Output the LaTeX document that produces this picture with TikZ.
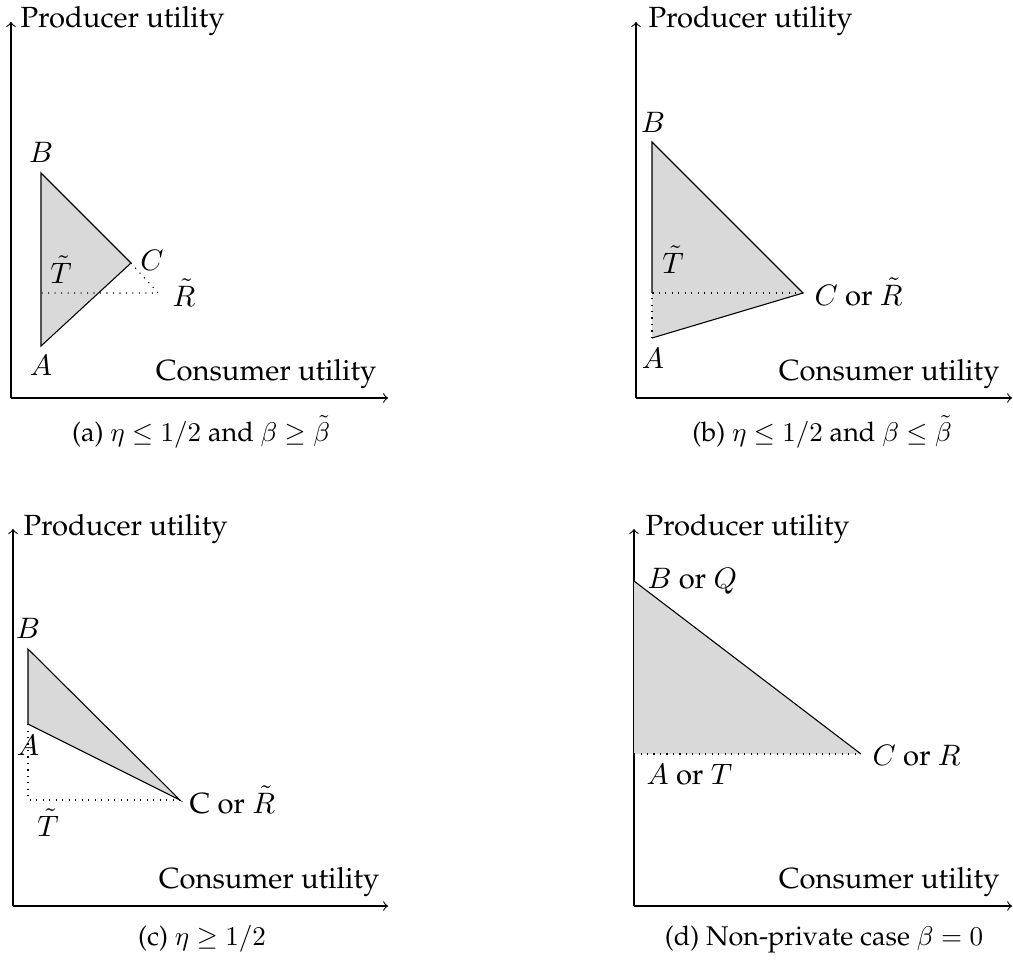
\documentclass[tikz,border=0pt]{standalone}
\usepackage[T1]{fontenc}
\usepackage{palatino}
\usepackage{tikz}
\usetikzlibrary{positioning}

\begin{document}
\begin{tikzpicture}[
  x=0.37pt, y=-0.37pt,
  axis/.style={->, >=to, line width=0.4pt},
  region/.style={fill=gray!30},
  guide/.style={dotted},
  lbl/.style={font=\fontsize{10.8}{13}\selectfont, inner sep=0pt, anchor=base},
  captext/.style={font=\fontsize{10}{12}\selectfont, inner sep=0pt, anchor=base}
]
  \useasboundingbox (0,0) rectangle (1013,961);

  % (a)
  \begin{scope}[name prefix=a-]
    \coordinate (O) at (11,398);
    \coordinate (Y) at (11,22);
    \coordinate (X) at (388,398);
    \coordinate (A) at (41,346);
    \coordinate (B) at (41,173);
    \coordinate (C) at (131,263);
    \coordinate (R) at (158,293);
    \coordinate (T) at (41,293);
    \draw[axis] (O) -- (Y);
    \draw[axis] (O) -- (X);
    \draw[region] (A) -- (B) -- (C) -- cycle;
    \draw[guide] (C) -- (R) -- (T);
    \node[lbl, anchor=base west] (py) at (20,27) {Producer utility};
    \node[lbl, anchor=base east] (px) at (377,380) {Consumer utility};
    \node[lbl] (lB) at (41,162) {$B$};
    \node[lbl] (lA) at (41,375) {$A$};
    \node[lbl] (lT) at (61,283) {$\tilde{T}$};
    \node[lbl] (lC) at (152,270) {$C$};
    \node[lbl] (lR) at (184,306) {$\tilde{R}$};
  \end{scope}

  % (b)
  \begin{scope}[name prefix=b-]
    \coordinate (O) at (636,398);
    \coordinate (Y) at (636,22);
    \coordinate (X) at (1012,398);
    \coordinate (A) at (652,338);
    \coordinate (B) at (652,142);
    \coordinate (C) at (803,293);
    \coordinate (T) at (652,293);
    \draw[axis] (O) -- (Y);
    \draw[axis] (O) -- (X);
    \fill[region] (A) -- (B) -- (C) -- cycle;
    \draw (T) -- (B) -- (C) -- (A);
    \draw[guide] (A) -- (T) -- (C);
    \node[lbl, anchor=base west] (py) at (648,27) {Producer utility};
    \node[lbl, anchor=base east] (px) at (1000,380) {Consumer utility};
    \node[lbl] (lB) at (653,132) {$B$};
    \node[lbl] (lA) at (653,368) {$A$};
    \node[lbl] (lT) at (673,273) {$\tilde{T}$};
    \node[lbl, anchor=base west] (lC) at (814,305) {$C$ or $\tilde{R}$};
  \end{scope}

  % (c)
  \begin{scope}[name prefix=c-]
    \coordinate (O) at (13,906);
    \coordinate (Y) at (13,529);
    \coordinate (X) at (388,906);
    \coordinate (A) at (28,724);
    \coordinate (B) at (28,649);
    \coordinate (C) at (180,800);
    \coordinate (T) at (28,800);
    \draw[axis] (O) -- (Y);
    \draw[axis] (O) -- (X);
    \draw[region] (A) -- (B) -- (C) -- cycle;
    \draw[guide] (A) -- (T) -- (C);
    \node[lbl, anchor=base west] (py) at (23,535) {Producer utility};
    \node[lbl, anchor=base east] (px) at (380,888) {Consumer utility};
    \node[lbl] (lB) at (28,638) {$B$};
    \node[lbl] (lA) at (28,755) {$A$};
    \node[lbl] (lT) at (48,836) {$\tilde{T}$};
    \node[lbl, anchor=base west] (lC) at (189,813) {C or $\tilde{R}$};
  \end{scope}

  % (d)
  \begin{scope}[name prefix=d-]
    \coordinate (O) at (634,906);
    \coordinate (Y) at (634,529);
    \coordinate (X) at (1012,906);
    \coordinate (A) at (634,754);
    \coordinate (B) at (634,581);
    \coordinate (C) at (861,754);
    \draw[axis] (O) -- (Y);
    \draw[axis] (O) -- (X);
    \fill[region] (A) -- (B) -- (C) -- cycle;
    \draw (B) -- (C);
    \draw[guide] (A) -- (C);
    \node[lbl, anchor=base west] (py) at (645,535) {Producer utility};
    \node[lbl, anchor=base east] (px) at (1000,888) {Consumer utility};
    \node[lbl, anchor=base west] (lB) at (647,588) {$B$ or $Q$};
    \node[lbl, anchor=base west] (lA) at (646,784) {$A$ or $T$};
    \node[lbl, anchor=base west] (lC) at (872,765) {$C$ or $R$};
  \end{scope}

  \node[captext] (capa) at (201,441) {(a) $\eta \le 1/2$ and $\beta \ge \tilde{\beta}$};
  \node[captext] (capb) at (822,441) {(b) $\eta \le 1/2$ and $\beta \le \tilde{\beta}$};
  \node[captext] (capc) at (202,945) {(c) $\eta \ge 1/2$};
  \node[captext] (capd) at (824,945) {(d) Non-private case $\beta = 0$};
\end{tikzpicture}
\end{document}
